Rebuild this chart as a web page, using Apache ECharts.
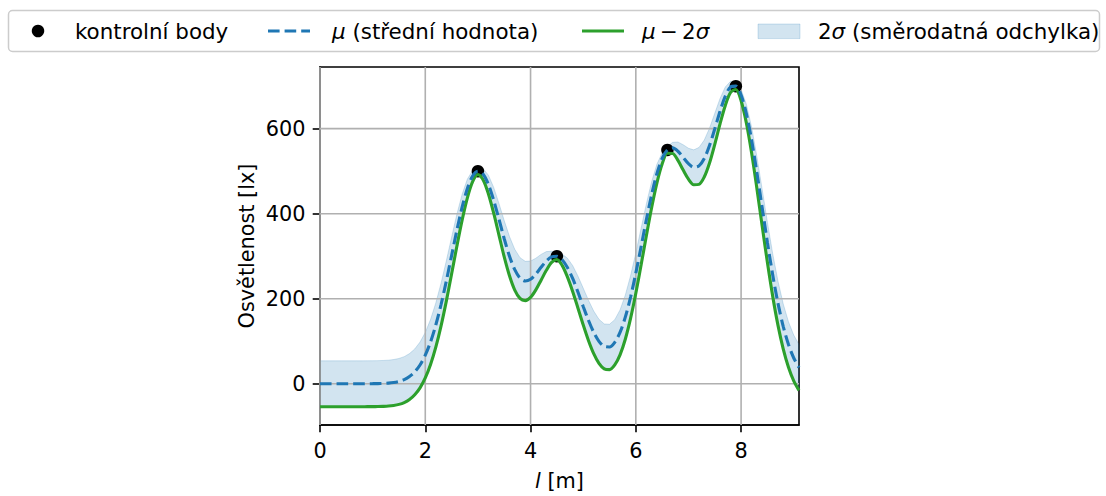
<!DOCTYPE html>
<html><head><meta charset="utf-8">
<script src="https://cdn.jsdelivr.net/npm/echarts@6/dist/echarts.min.js"></script>
<style>html,body{margin:0;padding:0;background:#fff}#c{width:1106px;height:496px}</style>
</head><body><div id="c"></div>
<script>
// ---- data ----
const xValues = [0,0.1,0.2,0.3,0.4,0.5,0.6,0.7,0.8,0.9,
 1.0,1.1,1.2,1.3,1.4,1.5,1.6,1.7,1.8,1.9,
 2.0,2.1,2.2,2.3,2.4,2.5,2.6,2.7,2.8,2.9,
 3.0,3.1,3.2,3.3,3.4,3.5,3.6,3.7,3.8,3.9,
 4.0,4.1,4.2,4.3,4.4,4.5,4.6,4.7,4.8,4.9,
 5.0,5.1,5.2,5.3,5.4,5.5,5.6,5.7,5.8,5.9,
 6.0,6.1,6.2,6.3,6.4,6.5,6.6,6.7,6.8,6.9,
 7.0,7.1,7.2,7.3,7.4,7.5,7.6,7.7,7.8,7.9,
 8.0,8.1,8.2,8.3,8.4,8.5,8.6,8.7,8.8,8.9,
 9.0,9.1];
const meanValues = [0,0,0,0,0,0,0,0,0,0.1,
 0.2,0.4,0.8,1.5,3.0,5.5,9.8,16.9,27.9,44.2,
 67.2,98.3,138.1,186.4,241.8,301.3,360.9,415.3,459.4,488.6,
 500.0,492.7,468.5,431.4,386.9,341.0,300.1,268.3,248.6,241.7,
 245.8,258.0,273.9,288.8,298.5,300.0,291.7,273.4,247.6,215.8,
 181.9,149.3,120.9,99.8,87.9,86.6,97.5,120.8,156.6,203.8,
 260.2,322.3,385.5,444.5,494.1,530.0,550.0,554.7,546.9,532.3,
 517.5,509.1,512.4,529.7,560.2,599.6,641.1,676.4,698.2,700.0,
 679.0,635.5,573.0,496.9,414.5,332.4,256.2,189.7,135.0,92.3,
 60.6,38.3];
const lowerValues = [-54,-54,-54,-54,-54,-54,-54,-54,-54,-53.9,
 -53.8,-53.6,-53.2,-52.5,-51.0,-48.5,-44.2,-37.1,-26.0,-9.6,
 13.7,45.4,86.2,136.2,194.4,258.1,323.4,384.9,437.4,475.4,
 492.0,479.5,446.5,401.1,349.6,298.3,253.9,220.3,200.6,195.5,
 203.1,220.7,243.6,266.8,285.3,292.0,278.5,251.4,217.2,178.3,
 138.7,101.9,70.8,48.0,35.1,33.3,44.2,68.0,104.8,153.7,
 212.8,279.1,348.0,414.1,472.1,516.8,542.0,541.6,525.2,502.5,
 481.1,468.1,469.0,486.3,519.2,563.2,611.3,654.7,685.1,692.0,
 665.8,613.5,542.6,459.4,371.3,285.0,206.1,137.8,82.1,38.8,
 6.8,-15.6];
const upperValues = [54,54,54,54,54,54,54,54,54,54.1,
 54.2,54.4,54.8,55.5,57.0,59.5,63.8,70.9,81.8,98.0,
 120.7,151.2,190.0,236.6,289.2,344.5,398.4,445.7,481.4,501.8,
 508.0,505.9,490.5,461.7,424.2,383.7,346.3,316.3,296.6,287.9,
 288.5,295.3,304.2,310.8,311.7,308.0,304.9,295.4,278.0,253.3,
 225.1,196.7,171.0,151.6,140.7,139.9,150.8,173.6,208.4,253.9,
 307.6,365.5,423.0,474.9,516.1,543.2,558.0,567.8,568.6,562.1,
 553.9,550.1,555.8,573.1,601.2,636.0,670.9,698.1,711.3,708.0,
 692.2,657.5,603.4,534.4,457.7,379.8,306.3,241.6,187.9,145.8,
 114.4,92.2];
const pointX = [3.0, 4.5, 6.6, 7.9];
const pointY = [500, 300, 550, 700];
const xTicks = [0, 2, 4, 6, 8];
const yTicks = [0, 200, 400, 600];
const legendLabels = ['kontrolní body', '{i|μ} (střední hodnota)', '{i|μ}\u2009−\u20092{i|σ}', '2{i|σ} (směrodatná odchylka)'];
const xAxisName = '{i|l} [m]';
const yAxisName = 'Osvětlenost [lx]';

// ---- chart ----
const FONT = 'DejaVu Sans';
const FS = 20.8;
const LFS = 21.4;
const BLUE = '#1f77b4', GREEN = '#2ca02c', GRIDC = '#b0b0b0';
const richI = { i: { fontStyle: 'italic', fontFamily: FONT, fontSize: FS, color: '#000' } };
const richL = { i: { fontStyle: 'italic', fontFamily: FONT, fontSize: LFS, color: '#000' } };
const pair = ys => xValues.map((x, i) => [x, ys[i]]);

const chart = echarts.init(document.getElementById('c'), null, { renderer: 'svg' });

const txt = (x, label) => ({
  type: 'text', x: x, y: 31, z: 101,
  style: { text: label, fontFamily: FONT, fontSize: LFS, fill: '#000', verticalAlign: 'middle', align: 'left', rich: richL }
});

chart.setOption({
  animation: false,
  grid: { left: 320, top: 67, width: 479, height: 359, show: true, borderColor: '#000', borderWidth: 1.6, backgroundColor: 'transparent' },
  xAxis: {
    type: 'value', min: 0, max: 9.1,
    name: xAxisName, nameLocation: 'middle', nameGap: 45,
    nameTextStyle: { fontFamily: FONT, fontSize: FS, color: '#000', rich: richI },
    axisLine: { show: true, onZero: false, lineStyle: { color: '#000', width: 1.6 } },
    axisTick: { show: true, inside: false, length: 7.3, lineStyle: { color: '#000', width: 1.6 }, customValues: xTicks },
    axisLabel: { fontFamily: FONT, fontSize: FS, color: '#000', margin: 15, customValues: xTicks },
    splitLine: { show: false }
  },
  yAxis: {
    type: 'value', min: -97, max: 745,
    name: yAxisName, nameLocation: 'middle', nameGap: 63,
    nameTextStyle: { fontFamily: FONT, fontSize: FS, color: '#000' },
    axisLine: { show: true, onZero: false, lineStyle: { color: '#000', width: 1.6 } },
    axisTick: { show: true, inside: false, length: 7.3, lineStyle: { color: '#000', width: 1.6 }, customValues: yTicks },
    axisLabel: { fontFamily: FONT, fontSize: FS, color: '#000', margin: 14.6, customValues: yTicks },
    splitLine: { show: false }
  },
  series: [
    { name: 'band', type: 'custom', data: [[0, 0]], encode: { x: 0, y: 1 }, silent: true, z: 1,
      renderItem: (params, api) => {
        const up = xValues.map((x, i) => api.coord([x, upperValues[i]]));
        const lo = xValues.map((x, i) => api.coord([x, lowerValues[i]])).reverse();
        return { type: 'polygon', shape: { points: up.concat(lo) },
          style: { fill: 'rgba(31,119,180,0.2)', stroke: 'rgba(31,119,180,0.2)', lineWidth: 1 } };
      } },
    { name: 'hgrid', type: 'custom', data: yTicks.map(v => [0, v]), encode: { x: 0, y: 1 }, silent: true, z: 2,
      renderItem: (params, api) => {
        const cs = params.coordSys; const p = api.coord([0, api.value(1)]);
        return { type: 'line', shape: { x1: cs.x, y1: p[1], x2: cs.x + cs.width, y2: p[1] }, style: { stroke: GRIDC, lineWidth: 1.6 } };
      } },
    { name: 'vgrid', type: 'custom', data: xTicks.map(v => [v, 0]), encode: { x: 0, y: 1 }, silent: true, z: 2,
      renderItem: (params, api) => {
        const cs = params.coordSys; const p = api.coord([api.value(0), 0]);
        return { type: 'line', shape: { x1: p[0], y1: cs.y, x2: p[0], y2: cs.y + cs.height }, style: { stroke: GRIDC, lineWidth: 1.6 } };
      } },
    { name: 'points', type: 'scatter', data: pointX.map((x, i) => [x, pointY[i]]), symbolSize: 12.5,
      itemStyle: { color: '#000', opacity: 1 }, silent: true, z: 3 },
    { name: 'lower', type: 'line', data: pair(lowerValues), symbol: 'none', smooth: 0.3, silent: true, z: 4,
      lineStyle: { color: GREEN, width: 3.1 } },
    { name: 'mean', type: 'line', data: pair(meanValues), symbol: 'none', smooth: 0.3, silent: true, z: 5,
      lineStyle: { color: BLUE, width: 3.1, type: [11.6, 5] } }
  ],
  graphic: [
    { type: 'rect', z: 100, shape: { x: 8.5, y: 10.5, width: 1091, height: 41, r: 4 },
      style: { fill: 'rgba(255,255,255,0.8)', stroke: '#cccccc', lineWidth: 1.5 } },
    { type: 'circle', z: 101, shape: { cx: 38, cy: 31, r: 6.25 }, style: { fill: '#000' } },
    txt(75, legendLabels[0]),
    { type: 'line', z: 101, shape: { x1: 268, y1: 31, x2: 310, y2: 31 }, style: { stroke: BLUE, lineWidth: 3.1, lineDash: [11.6, 5] } },
    txt(332, legendLabels[1]),
    { type: 'line', z: 101, shape: { x1: 582, y1: 31, x2: 624, y2: 31 }, style: { stroke: GREEN, lineWidth: 3.1 } },
    txt(642, legendLabels[2]),
    { type: 'rect', z: 101, shape: { x: 758, y: 24, width: 42, height: 14.6 },
      style: { fill: 'rgba(31,119,180,0.2)', stroke: 'rgba(31,119,180,0.2)', lineWidth: 1 } },
    txt(818, legendLabels[3])
  ]
});
</script></body></html>
